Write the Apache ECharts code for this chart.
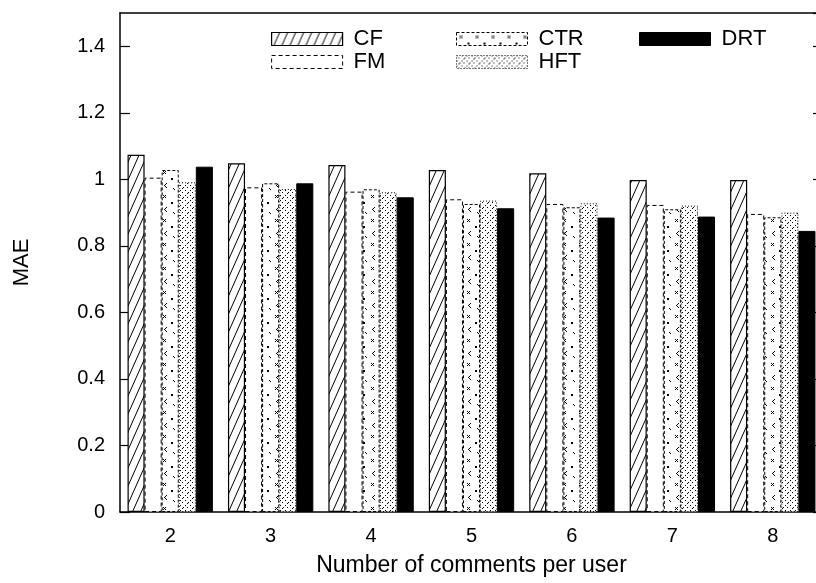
<!DOCTYPE html>
<html>
<head>
<meta charset="utf-8">
<script src="https://cdn.jsdelivr.net/npm/echarts@6/dist/echarts.min.js"></script>
<style>html,body{margin:0;padding:0;background:#fff;}#chart{width:816px;height:583px;}</style>
</head>
<body>
<div id="chart"></div>
<script>
// ---- data ----
const categories = ['2', '3', '4', '5', '6', '7', '8'];
const seriesNames = ['CF', 'FM', 'CTR', 'HFT', 'DRT'];
const cfValues  = [1.074, 1.048, 1.043, 1.028, 1.018, 0.998, 0.998];
const fmValues  = [1.005, 0.976, 0.963, 0.940, 0.926, 0.923, 0.896];
const ctrValues = [1.028, 0.988, 0.970, 0.926, 0.916, 0.910, 0.886];
const hftValues = [0.991, 0.971, 0.961, 0.936, 0.928, 0.921, 0.900];
const drtValues = [1.038, 0.988, 0.946, 0.913, 0.885, 0.888, 0.845];
const yTicks = [0, 0.2, 0.4, 0.6, 0.8, 1, 1.2, 1.4];

// ---- patterns ----
function mk(w, h, draw) {
  const c = document.createElement('canvas');
  c.width = w; c.height = h;
  const ctx = c.getContext('2d');
  ctx.fillStyle = '#fff';
  ctx.fillRect(0, 0, w, h);
  ctx.fillStyle = '#000';
  ctx.strokeStyle = '#000';
  draw(ctx);
  return { image: c, repeat: 'repeat' };
}
const cfPattern = mk(8, 18, ctx => {
  ctx.lineWidth = 1;
  ctx.beginPath();
  for (let k = -1; k <= 1; k++) {
    ctx.moveTo(k * 8, 18);
    ctx.lineTo(k * 8 + 8, 0);
  }
  ctx.stroke();
});
const ctrPattern = mk(16, 24, ctx => {
  const px = (x, y) => ctx.fillRect(x, y, 1, 1);
  px(3, 3); px(5, 3); px(4, 4); px(3, 5); px(5, 5);
  ctx.fillRect(11, 10, 2, 2);
  px(6, 15); px(5, 16); px(4, 17); px(5, 18); px(6, 19);
  px(13, 20); px(14, 21);
});
const hftPattern = mk(10, 10, ctx => {
  const px = (x, y) => ctx.fillRect(x, y, 1, 1);
  px(0, 0); px(2, 2); px(7, 7); px(8, 2); px(2, 8);
  px(5, 5); px(3, 7); px(7, 3);
  px(5, 0); px(0, 5);
});

const fontFamily = '"Liberation Sans", Arial, Helvetica, sans-serif';

function barSeries(name, data, style) {
  return {
    name: name,
    type: 'bar',
    data: data,
    barGap: '0%',
    barCategoryGap: '15%',
    itemStyle: style,
    emphasis: { disabled: true },
    animation: false
  };
}

const styles = {
  CF:  { color: cfPattern, borderColor: '#000', borderWidth: 1.2 },
  FM:  { color: '#fff', borderColor: '#000', borderWidth: 1, borderType: [4, 3] },
  CTR: { color: ctrPattern, borderColor: '#000', borderWidth: 1, borderType: [3, 2] },
  HFT: { color: hftPattern, borderColor: '#000', borderWidth: 1, borderType: [1, 2] },
  DRT: { color: '#000', borderColor: '#000', borderWidth: 1 }
};
const seriesData = { CF: cfValues, FM: fmValues, CTR: ctrValues, HFT: hftValues, DRT: drtValues };

const chart = echarts.init(document.getElementById('chart'), null, { renderer: 'canvas' });
const axisLineStyle = { color: '#000', width: 1.5 };
const tickStyle = { color: '#000', width: 1.2 };
chart.setOption({
  backgroundColor: '#fff',
  animation: false,
  textStyle: { fontFamily: fontFamily, color: '#000' },
  grid: { left: 120, top: 13, bottom: 71, width: 703, containLabel: false, outerBoundsMode: 'none' },
  legend: [
    { names: ['CF', 'FM'], left: 271, top: 28 },
    { names: ['CTR', 'HFT'], left: 456, top: 28 },
    { names: ['DRT'], left: 639, top: 28 }
  ].map(l => ({
    data: l.names.map(n => ({ name: n, itemStyle: styles[n] })),
    left: l.left, top: l.top,
    orient: 'vertical', icon: 'rect', itemWidth: 71, itemHeight: 13, itemGap: 1,
    padding: 0, selectedMode: false,
    textStyle: { fontFamily: fontFamily, fontSize: 22, color: '#000', lineHeight: 13, padding: [0, 0, 0, 6] }
  })),
  xAxis: [
    {
      type: 'category', data: categories, position: 'bottom',
      name: 'Number of comments per user', nameLocation: 'middle', nameGap: 42,
      nameTextStyle: { fontSize: 23, color: '#000', fontFamily: fontFamily },
      axisLine: { onZero: false, lineStyle: axisLineStyle },
      axisTick: { inside: true, length: 10, alignWithLabel: true, lineStyle: tickStyle },
      axisLabel: { color: '#000', fontSize: 20, margin: 14, fontFamily: fontFamily },
      splitLine: { show: false }
    },
    {
      type: 'category', data: categories, position: 'top',
      axisLine: { onZero: false, lineStyle: axisLineStyle },
      axisTick: { inside: true, length: 10, alignWithLabel: true, lineStyle: tickStyle },
      axisLabel: { show: false },
      splitLine: { show: false }
    }
  ],
  yAxis: [
    {
      type: 'value', min: 0, max: 1.5, interval: 0.2, position: 'left',
      name: 'MAE', nameLocation: 'middle', nameGap: 87, nameRotate: 90,
      nameTextStyle: { fontSize: 22, color: '#000', fontFamily: fontFamily },
      axisLine: { show: true, onZero: false, lineStyle: axisLineStyle },
      axisTick: { show: true, inside: true, length: 10, lineStyle: tickStyle },
      axisLabel: {
        color: '#000', fontSize: 20, margin: 15, fontFamily: fontFamily, showMaxLabel: false,
        formatter: v => (yTicks.some(t => Math.abs(t - v) < 1e-6) ? String(+v.toFixed(1)) : '')
      },
      splitLine: { show: false }
    },
    {
      type: 'value', min: 0, max: 1.5, interval: 0.2, position: 'right',
      axisLine: { show: true, onZero: false, lineStyle: axisLineStyle },
      axisTick: { show: true, inside: true, length: 10, lineStyle: tickStyle },
      axisLabel: { show: false },
      splitLine: { show: false }
    }
  ],
  series: seriesNames.map(n => barSeries(n, seriesData[n], styles[n]))
});
</script>
</body>
</html>
